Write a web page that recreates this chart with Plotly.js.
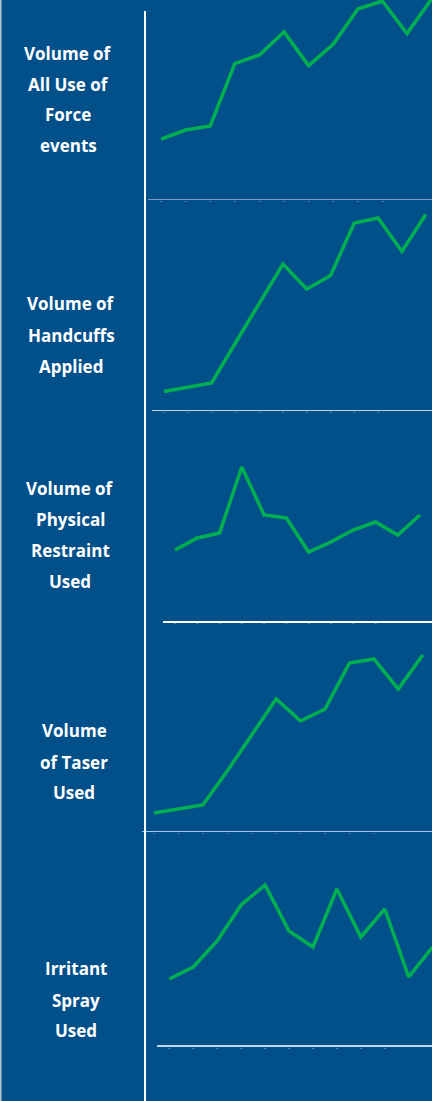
<!DOCTYPE html>
<html>
<head>
<meta charset="utf-8">
<script src="https://cdn.plot.ly/plotly-3.0.1.min.js"></script>
<style>
html,body{margin:0;padding:0;background:#02508A;}
#chart{width:432px;height:1101px;}
</style>
</head>
<body>
<div id="chart"></div>
<script>
// Periods (12 consecutive periods, labels not shown in the original)
const periods = ["P1","P2","P3","P4","P5","P6","P7","P8","P9","P10","P11","P12"];

// Series values (relative units)
const allUseOfForce   = [299, 345, 365, 677, 720, 835, 667, 774, 950, 990, 827, 1000];
const handcuffs       = [37, 45, 54, 134, 213, 292, 242, 269, 374, 384, 317, 391];
const physicalRestr   = [71, 83, 88, 154, 106, 103, 69, 79, 91, 99, 86, 106];
const taser           = [9, 11, 13, 30, 48, 66, 55, 61, 84, 86, 71, 88];
const irritantSpray   = [33, 39, 52, 70, 80, 57, 49, 78, 54, 68, 34, 49];

// Row labels
const labelLines = [
  ["Volume of", "All Use of", "Force", "events"],
  ["Volume of", "Handcuffs", "Applied"],
  ["Volume of", "Physical", "Restraint", "Used"],
  ["Volume", "of Taser", "Used"],
  ["Irritant", "Spray", "Used"]
];

const series = [allUseOfForce, handcuffs, physicalRestr, taser, irritantSpray];

const W = 432, H = 1101;
// panel geometry in pixels
const panels = [
  {axisY:199, topY:0,   left:148, first:161,   step:24.6,  yMax:995, line:"#7f9cc0", lw:1,   tick:"#8fa9c8", lab:{cx:68, ys:[53,84,115,146]}},
  {axisY:410, topY:201, left:152, first:164,   step:23.79, yMax:418, line:"#c3d6ec", lw:1,   tick:"#7f9cc0", lab:{cx:71, ys:[304,335,366]}},
  {axisY:621, topY:412, left:163, first:175,   step:22.27, yMax:209, line:"#ffffff", lw:1.5, tick:"#8fa9c8", lab:{cx:70, ys:[488,519,550,581]}},
  {axisY:831, topY:623, left:142, first:154,   step:24.43, yMax:104, line:"#a9c5e6", lw:1,   tick:"#6f94bd", lab:{cx:74, ys:[731,762,792]}},
  {axisY:1045,topY:833, left:157, first:169.3, step:23.94, yMax:106, line:"#c0d6ee", lw:2,   tick:"#7fb0e0", lab:{cx:75.5, ys:[968,1000,1030]}}
];

const data = [];
const layout = {
  width: W, height: H,
  margin: {l:0, r:0, t:0, b:0, pad:0},
  paper_bgcolor: "#02508A",
  plot_bgcolor: "rgba(0,0,0,0)",
  showlegend: false,
  annotations: [],
  shapes: [
    {type:"line", xref:"paper", yref:"paper", x0:145/W, x1:145/W, y0:0, y1:(H-11)/H, line:{color:"#ffffff", width:2}},
    {type:"rect", xref:"paper", yref:"paper", x0:0, x1:1.5/W, y0:0, y1:1, line:{width:0}, fillcolor:"#b9c6d6"}
  ]
};

panels.forEach((p, i) => {
  const n = i + 1;
  const xa = "x" + (n === 1 ? "" : n), ya = "y" + (n === 1 ? "" : n);
  data.push({
    type: "scatter", mode: "lines",
    x: periods, y: series[i],
    xaxis: xa, yaxis: ya,
    line: {color: "#00B050", width: 3.5},
    hoverinfo: "skip"
  });
  const start = -(p.first - p.left) / p.step;
  const end = start + (W - p.left) / p.step;
  layout["xaxis" + (n === 1 ? "" : n)] = {
    anchor: ya,
    domain: [p.left / W, 1],
    range: [start, end],
    type: "category",
    showgrid: false, zeroline: false,
    showline: true, linecolor: p.line, linewidth: p.lw,
    ticks: "",
    tickmode: "array",
    tickvals: periods.slice(0, 10),
    ticktext: periods.slice(0, 10).map(() => "-"),
    tickfont: {family: "Lato, sans-serif", size: 8, color: p.tick},
    ticklabelstandoff: -6,
    fixedrange: true
  };
  layout["yaxis" + (n === 1 ? "" : n)] = {
    anchor: xa,
    domain: [(H - p.axisY) / H, (H - p.topY) / H],
    range: [0, p.yMax],
    showgrid: false, zeroline: false, showline: false,
    showticklabels: false, ticks: "",
    fixedrange: true
  };
  labelLines[i].forEach((t, k) => {
    layout.annotations.push({
      text: "<b>" + t + "</b>", xref: "paper", yref: "paper",
      x: p.lab.cx / W, y: (H - p.lab.ys[k]) / H,
      xanchor: "center", yanchor: "middle", showarrow: false,
      font: {family: "'Open Sans', Lato, sans-serif", size: 17, color: "#ffffff"}
    });
  });
});

Plotly.newPlot("chart", data, layout, {displayModeBar: false, staticPlot: true});
</script>
</body>
</html>
